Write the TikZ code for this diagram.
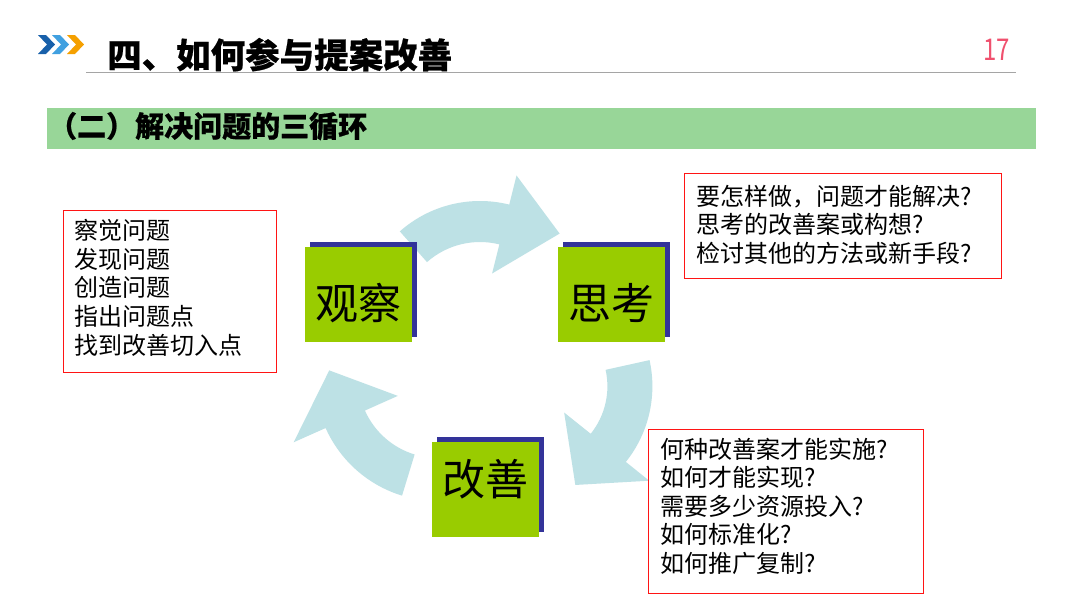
\documentclass[tikz,border=0pt]{standalone}
\usepackage{fontspec}
\newfontfamily\cjk{Noto Sans CJK SC}[BoldFeatures={FakeBold=0.6}]
\usetikzlibrary{calc,shadows}
\definecolor{arrowc}{RGB}{189,225,229}
\definecolor{boxgreen}{RGB}{153,204,0}
\definecolor{shadowblue}{RGB}{51,51,153}
\definecolor{bargreen}{RGB}{152,214,152}
\definecolor{pagered}{RGB}{240,80,110}
\definecolor{chevdark}{RGB}{24,96,170}
\definecolor{chevlight}{RGB}{64,160,224}
\definecolor{chevorange}{RGB}{245,160,0}
\definecolor{linegray}{RGB}{165,165,165}
\definecolor{boxred}{RGB}{255,20,20}
\begin{document}
\begin{tikzpicture}[x=1pt,y=-1pt,
  greenbox/.style={fill=boxgreen, minimum width=107, minimum height=95, inner sep=0,
    general shadow={fill=shadowblue, shadow xshift=5pt, shadow yshift=5pt}},
  bigtext/.style={anchor=base, inner sep=0, font=\cjk\fontsize{43}{50}\selectfont},
  redbox/.style={draw=boxred, fill=white, line width=1.2pt, inner sep=0, anchor=north west},
  linetext/.style={anchor=base west, inner sep=0, font=\cjk\fontsize{24}{28}\selectfont},
  cyclearrow/.style={fill=arrowc}]
\useasboundingbox (0,0) rectangle (1080,608);
\fill[white] (0,0) rectangle (1080,608);
% header chevrons
\foreach \xo/\col in {38/chevdark,52/chevlight,67/chevorange}
  \fill[\col] (\xo,35) -- ({\xo+8},35) -- ({\xo+17},44.5) -- ({\xo+8},54) -- (\xo,54) -- ({\xo+9},44.5) -- cycle;
% header rule and title
\coordinate (ruleL) at (86,72.5);
\coordinate (ruleR) at (1016,72.5);
\draw[linegray, line width=1.5pt] (ruleL) -- (ruleR);
\node[anchor=base west, inner sep=0, font=\cjk\bfseries\fontsize{34.5}{40}\selectfont] (title) at (107,68) {四、如何参与提案改善};
\node[anchor=base west, inner sep=0, xscale=0.8, text=pagered, font=\cjk\fontsize{30}{36}\selectfont] (pagenum) at (983,60) {17};
% sub-title bar
\node[fill=bargreen, minimum width=989, minimum height=41, inner sep=0, anchor=north west] (bar) at (47,108) {};
\node[anchor=base west, inner sep=0, font=\cjk\bfseries\fontsize{29}{34}\selectfont] (subtitle) at (48,137) {（二）解决问题的三循环};
% cycle arrows
\coordinate (ta) at (480,322);
\coordinate (ra) at (531.4,386.3);
\coordinate (la) at (438,378);
\fill[cyclearrow] ($(ta)+(-131.5:121)$) arc[start angle=-131.5, end angle=-76, radius=121]
  -- ($(ta)+(-76:151)$) -- ($(ta)+(-48:119)$) -- ($(ta)+(-76:50)$)
  -- ($(ta)+(-76:80)$) arc[start angle=-76, end angle=-131.5, radius=80] -- cycle;
\fill[cyclearrow] ($(ra)+(-12.5:121)$) arc[start angle=-12.5, end angle=38.7, radius=121]
  -- ($(ra)+(38.7:151)$) -- ($(ra)+(66:108)$) -- ($(ra)+(38.7:42)$)
  -- ($(ra)+(38.7:76)$) arc[start angle=38.7, end angle=-12.5, radius=76] -- cycle;
\fill[cyclearrow] ($(la)+(107:123)$) arc[start angle=107, end angle=156, radius=123]
  -- ($(la)+(156:158)$) -- ($(la)+(184:109)$) -- ($(la)+(156:44)$)
  -- ($(la)+(156:80)$) arc[start angle=156, end angle=107, radius=80] -- cycle;
% stage boxes
\node[greenbox] (obsbox) at (358.5,294.5) {};
\node[bigtext] (obs) at (358.5,319.3) {观察};
\node[greenbox] (thinkbox) at (611.5,294.5) {};
\node[bigtext] (think) at (611.5,319.3) {思考};
\node[greenbox] (impbox) at (485,489.2) {};
\node[bigtext] (imp) at (485,495.3) {改善};
% question boxes
\node[redbox, minimum width=213, minimum height=162] (qobs) at (63,210) {};
\node[redbox, minimum width=317, minimum height=105] (qthink) at (684,173) {};
\node[redbox, minimum width=275, minimum height=164] (qimp) at (648,429) {};
\foreach \t [count=\i from 0] in {{察觉问题},{发现问题},{创造问题},{指出问题点},{找到改善切入点}}
  \node[linetext] (lo\i) at (74,{239.6+28.6*\i}) {\t};
\foreach \t [count=\i from 0] in {{要怎样做，问题才能解决?},{思考的改善案或构想?},{检讨其他的方法或新手段?}}
  \node[linetext] (lt\i) at (696,{205+28.5*\i}) {\t};
\foreach \t [count=\i from 0] in {{何种改善案才能实施?},{如何才能实现?},{需要多少资源投入?},{如何标准化?},{如何推广复制?}}
  \node[linetext] (li\i) at (660,{458+28.5*\i}) {\t};
\end{tikzpicture}
\end{document}
